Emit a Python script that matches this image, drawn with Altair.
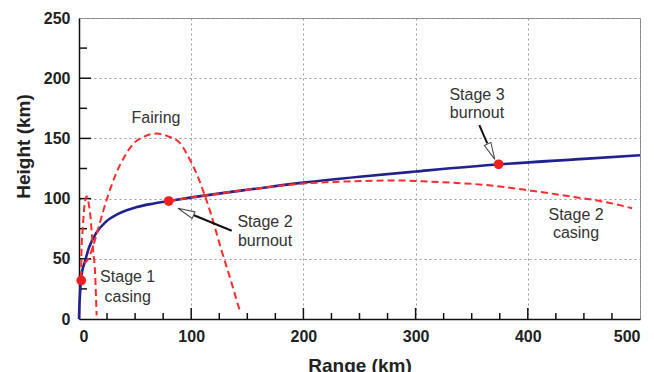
import altair as alt
import pandas as pd

# ---- data ----
blue_x = [0, 0.4, 1, 1.8, 3, 4.8, 9.2, 15.2, 24, 35.9, 50.8, 65.7, 80, 102, 134, 150, 200, 250, 300, 375, 450, 500]
blue_y = [0, 12, 22, 33, 40.5, 46.3, 60, 71.2, 80.8, 87.8, 92.8, 95.8, 98, 101.2, 105.4, 107.3, 113.3, 118.2, 122.5, 128.5, 133, 136]

s1_x = [1.8, 2.4, 3.2, 3.9, 5, 6, 6.8, 7.8, 8.8, 9.8, 11.3, 12.7, 14.3, 15.1, 15.7]
s1_y = [34, 61.5, 73, 83.6, 95, 100.5, 102, 100, 95, 89, 72.5, 56, 39, 20, 3]

fair_x = [4.8, 6.8, 11.3, 17.2, 23.2, 29, 33.6, 40, 48.4, 58, 69, 80, 90, 99, 106, 112, 117, 122.7, 127, 131.5, 136, 140, 144]
fair_y = [46.3, 48, 57, 75.3, 94.7, 111, 122, 134, 145.5, 151.5, 154, 151.5, 146, 132, 118, 103, 89, 71, 57, 43.5, 30, 17, 5]

s2_x = [80, 102, 134, 150, 180, 200, 240, 286, 313, 360, 399, 440, 470, 493]
s2_y = [98, 101.2, 105.4, 107.3, 110.8, 112.5, 114.3, 115, 114, 111.5, 107.1, 101.5, 97, 92]

event_x = [2, 80, 374]
event_y = [32, 98, 128.5]

label_text = ["Fairing", "Stage 1", "casing", "Stage 2", "burnout", "Stage 3", "burnout", "Stage 2", "casing"]
label_x = [68.6, 43.4, 43.4, 165.8, 165.8, 354.7, 354.7, 443, 443]
label_y = [166.7, 34.6, 18.5, 80.8, 65.0, 186.0, 170.8, 86.4, 71.2]

arrow_x1 = [136.1, 356.8]
arrow_y1 = [73.3, 161.1]
arrow_x2 = [101.9, 363.9]
arrow_y2 = [86.4, 145.9]

head_x = [95.2, 367.4]
head_y = [89.1, 139.0]
head_angle = [294, 155]

x_major = [100, 200, 300, 400]
x_minor = [25, 50, 75, 125, 150, 175, 225, 250, 275, 325, 350, 375, 425, 450, 475]
y_major = [50, 100, 150, 200]
y_minor = [25, 75, 125, 175, 225]

# ---- tables ----
blue_df = pd.DataFrame({"x": blue_x, "y": blue_y})
red_df = pd.concat([
    pd.DataFrame({"x": s1_x, "y": s1_y, "s": "Stage 1 casing"}),
    pd.DataFrame({"x": fair_x, "y": fair_y, "s": "Fairing"}),
    pd.DataFrame({"x": s2_x, "y": s2_y, "s": "Stage 2 casing"}),
])
ev_df = pd.DataFrame({"x": event_x, "y": event_y})
lab_df = pd.DataFrame({"x": label_x, "y": label_y, "t": label_text})
arr_df = pd.DataFrame({"x": arrow_x1, "y": arrow_y1, "x2": arrow_x2, "y2": arrow_y2})
head_df = pd.DataFrame({"x": head_x, "y": head_y, "a": head_angle})
xmaj_df = pd.DataFrame({"x": x_major})
xmin_df = pd.DataFrame({"x": x_minor})
ymaj_df = pd.DataFrame({"y": y_major})
ymin_df = pd.DataFrame({"y": y_minor})

W, H = 561, 301
FONT = "Liberation Sans"

xs = alt.Scale(domain=[0, 500], nice=False)
ys = alt.Scale(domain=[0, 250], nice=False)

xaxis = alt.Axis(values=[0, 100, 200, 300, 400, 500], tickSize=0, labelPadding=9,
                 labelFont=FONT, labelFontSize=16, labelFontWeight="bold", labelColor="#222",
                 titleFont=FONT, titleFontSize=19, titleFontWeight="bold", titleColor="#222",
                 titleY=46, titleBaseline="middle",
                 domainColor="#111", domainWidth=1.5,
                 grid=True, gridColor="#999", gridDash=[2, 3], gridWidth=1)
yaxis = alt.Axis(values=[0, 50, 100, 150, 200, 250], tickSize=0, labelPadding=9,
                 labelFont=FONT, labelFontSize=16, labelFontWeight="bold", labelColor="#222",
                 titleFont=FONT, titleFontSize=19, titleFontWeight="bold", titleColor="#222",
                 titleX=-56, titleY=128, titleAngle=270, titleBaseline="middle", titleAlign="center",
                 domainColor="#111", domainWidth=1.5,
                 grid=True, gridColor="#999", gridDash=[2, 3], gridWidth=1)


def X(f="x"):
    return alt.X(f + ":Q", scale=xs, axis=xaxis, title="Range (km)")


def Y(f="y"):
    return alt.Y(f + ":Q", scale=ys, axis=yaxis, title="Height (km)")


xmaj = alt.Chart(xmaj_df).mark_rule(color="#111", strokeWidth=1.5).encode(
    x=X(), y=alt.value(H), y2=alt.value(H - 11))
xmin = alt.Chart(xmin_df).mark_rule(color="#111", strokeWidth=1.5).encode(
    x=X(), y=alt.value(H), y2=alt.value(H - 6))
ymaj = alt.Chart(ymaj_df).mark_rule(color="#111", strokeWidth=1.5).encode(
    y=Y(), x=alt.value(0), x2=alt.value(12))
ymin = alt.Chart(ymin_df).mark_rule(color="#111", strokeWidth=1.5).encode(
    y=Y(), x=alt.value(0), x2=alt.value(8))

blue = alt.Chart(blue_df).mark_line(color="#22228f", strokeWidth=2.6, interpolate="monotone").encode(
    x=X(), y=Y())
red = alt.Chart(red_df).mark_line(color="#ff2b2b", strokeWidth=2, strokeDash=[7, 4],
                                  interpolate="monotone").encode(
    x=X(), y=Y(), detail="s:N")
arrows = alt.Chart(arr_df).mark_rule(color="#111", strokeWidth=2).encode(
    x=X(), y=Y(), x2="x2:Q", y2="y2:Q")
heads = alt.Chart(head_df).mark_point(shape="M0,-1L0.42,1L-0.42,1Z", filled=True, fill="white",
                                      stroke="#444", strokeWidth=1, size=290, opacity=1).encode(
    x=X(), y=Y(), angle=alt.Angle("a:Q", scale=None))
points = alt.Chart(ev_df).mark_circle(color="#ee1f1f", size=95, opacity=1).encode(x=X(), y=Y())
labels = alt.Chart(lab_df).mark_text(font=FONT, fontSize=16, color="#333", align="center",
                                     baseline="middle").encode(x=X(), y=Y(), text="t:N")

chart = alt.layer(xmaj, xmin, ymaj, ymin, blue, red, arrows, heads, points, labels).properties(
    width=W, height=H,
    autosize=alt.AutoSizeParams(type="none"),
    padding={"left": 71, "top": 10, "right": 6, "bottom": 54},
    background="white",
).configure_view(stroke="#888", strokeWidth=1)

chart.save("out.html", embed_options={"renderer": "svg", "actions": False})
